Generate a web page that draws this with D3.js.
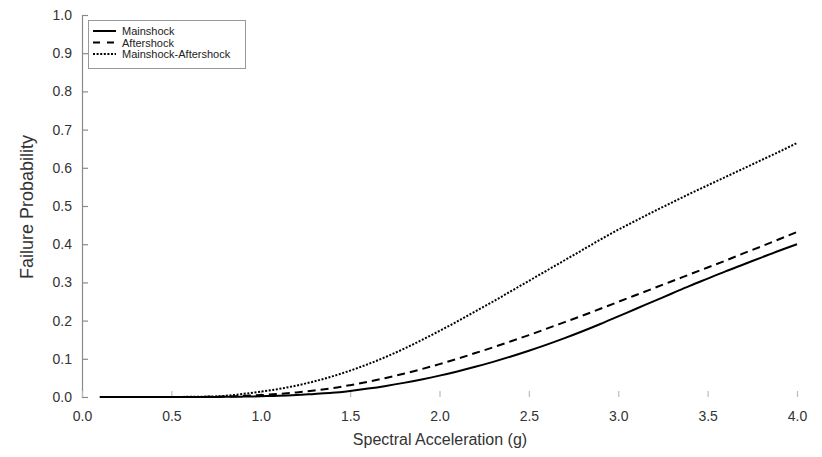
<!DOCTYPE html>
<html>
<head>
<meta charset="utf-8">
<script src="https://cdn.jsdelivr.net/npm/d3@7"></script>
<style>
  body { margin: 0; background: #fff; }
  svg { display: block; font-family: Arial, "Liberation Sans", sans-serif; }
</style>
</head>
<body>
<svg width="822" height="457"></svg>
<script>
// spectral acceleration (g)
var sa = [0.1,0.2,0.3,0.4,0.5,0.6,0.7,0.8,0.9,1.0,
          1.1,1.2,1.3,1.4,1.5,1.6,1.7,1.8,1.9,2.0,
          2.1,2.2,2.3,2.4,2.5,2.6,2.7,2.8,2.9,3.0,
          3.1,3.2,3.3,3.4,3.5,3.6,3.7,3.8,3.9,4.0];

var mainshock = [0,0,0,0,0,0,0,0.0005,0.001,0.002,
                 0.003,0.005,0.008,0.011,0.016,0.022,0.029,0.037,0.046,0.056,
                 0.067,0.079,0.092,0.106,0.121,0.137,0.154,0.172,0.191,0.211,
                 0.231,0.251,0.271,0.291,0.31,0.329,0.347,0.365,0.383,0.40];

var aftershock = [0,0,0,0,0,0,0.0005,0.001,0.003,0.005,
                  0.008,0.012,0.017,0.023,0.031,0.040,0.050,0.061,0.073,0.086,
                  0.1,0.115,0.13,0.146,0.162,0.179,0.196,0.213,0.231,0.249,
                  0.267,0.285,0.303,0.321,0.339,0.357,0.376,0.394,0.413,0.432];

var mainAfter = [0,0,0,0,0,0.0005,0.001,0.003,0.008,0.014,
                 0.021,0.030,0.041,0.054,0.069,0.086,0.105,0.126,0.149,0.173,
                 0.198,0.224,0.25,0.277,0.304,0.331,0.358,0.385,0.412,0.438,
                 0.462,0.486,0.509,0.532,0.554,0.576,0.598,0.62,0.642,0.665];

var xTicks = [0,0.5,1,1.5,2,2.5,3,3.5,4];
var yTicks = [0,0.1,0.2,0.3,0.4,0.5,0.6,0.7,0.8,0.9,1.0];

var series = [
  {name: "Mainshock", values: mainshock, dash: null, key: null},
  {name: "Aftershock", values: aftershock, dash: "8,5", key: "7,7"},
  {name: "Mainshock-Aftershock", values: mainAfter, dash: "2,1.6", key: "2,1.6"}
];

var svg = d3.select("svg");

var x = d3.scaleLinear().domain([0, 4]).range([82, 797]);
var y = d3.scaleLinear().domain([0, 1]).range([397, 15]);

// y axis with line, ticks pointing inward
var yAxis = svg.append("g")
    .attr("transform", "translate(" + x(0) + ",0)")
    .call(d3.axisLeft(y).tickValues(yTicks).tickFormat(d3.format(".1f")).tickSize(-6).tickPadding(10));
yAxis.select(".domain").attr("stroke", "#8a8a8a").attr("stroke-width", 1.2);
yAxis.selectAll(".tick line").attr("stroke", "#8a8a8a").attr("stroke-width", 1.2);
yAxis.selectAll("text").attr("font-size", 14).attr("fill", "#333").attr("font-family", "Arial, 'Liberation Sans', sans-serif");

// x axis, no line, ticks pointing up
var xAxis = svg.append("g")
    .attr("transform", "translate(0," + y(0) + ")")
    .call(d3.axisBottom(x).tickValues(xTicks).tickFormat(d3.format(".1f")).tickSize(-6).tickPadding(14));
xAxis.select(".domain").remove();
xAxis.selectAll(".tick line").attr("stroke", "#bbb").attr("stroke-width", 1.2);
xAxis.selectAll("text").attr("font-size", 14).attr("fill", "#333").attr("font-family", "Arial, 'Liberation Sans', sans-serif");

// axis titles
svg.append("text")
    .attr("x", 440)
    .attr("y", 445)
    .attr("text-anchor", "middle")
    .attr("font-size", 16)
    .attr("fill", "#333")
    .text("Spectral Acceleration (g)");

svg.append("text")
    .attr("transform", "translate(33," + 207 + ") rotate(-90)")
    .attr("text-anchor", "middle")
    .attr("font-size", 18)
    .attr("fill", "#333")
    .text("Failure Probability");

// curves
var line = d3.line()
    .x(function(d, i) { return x(sa[i]); })
    .y(function(d) { return y(d); })
    .curve(d3.curveMonotoneX);

series.forEach(function(s) {
  svg.append("path")
    .datum(s.values)
    .attr("fill", "none")
    .attr("stroke", "#000")
    .attr("stroke-width", 2)
    .attr("stroke-dasharray", s.dash)
    .attr("d", line);
});

// legend
var lg = svg.append("g");
lg.append("rect")
    .attr("x", 88.5).attr("y", 20.5)
    .attr("width", 157).attr("height", 48)
    .attr("fill", "#fff")
    .attr("stroke", "#999");

series.forEach(function(s, i) {
  var yy = 31 + i * 11.5;
  lg.append("line")
    .attr("x1", 93).attr("x2", 116)
    .attr("y1", yy).attr("y2", yy)
    .attr("stroke", "#000")
    .attr("stroke-width", 2)
    .attr("stroke-dasharray", s.key);
  lg.append("text")
    .attr("x", 122).attr("y", yy + 4)
    .attr("font-size", 11)
    .attr("fill", "#222")
    .text(s.name);
});
</script>
</body>
</html>
